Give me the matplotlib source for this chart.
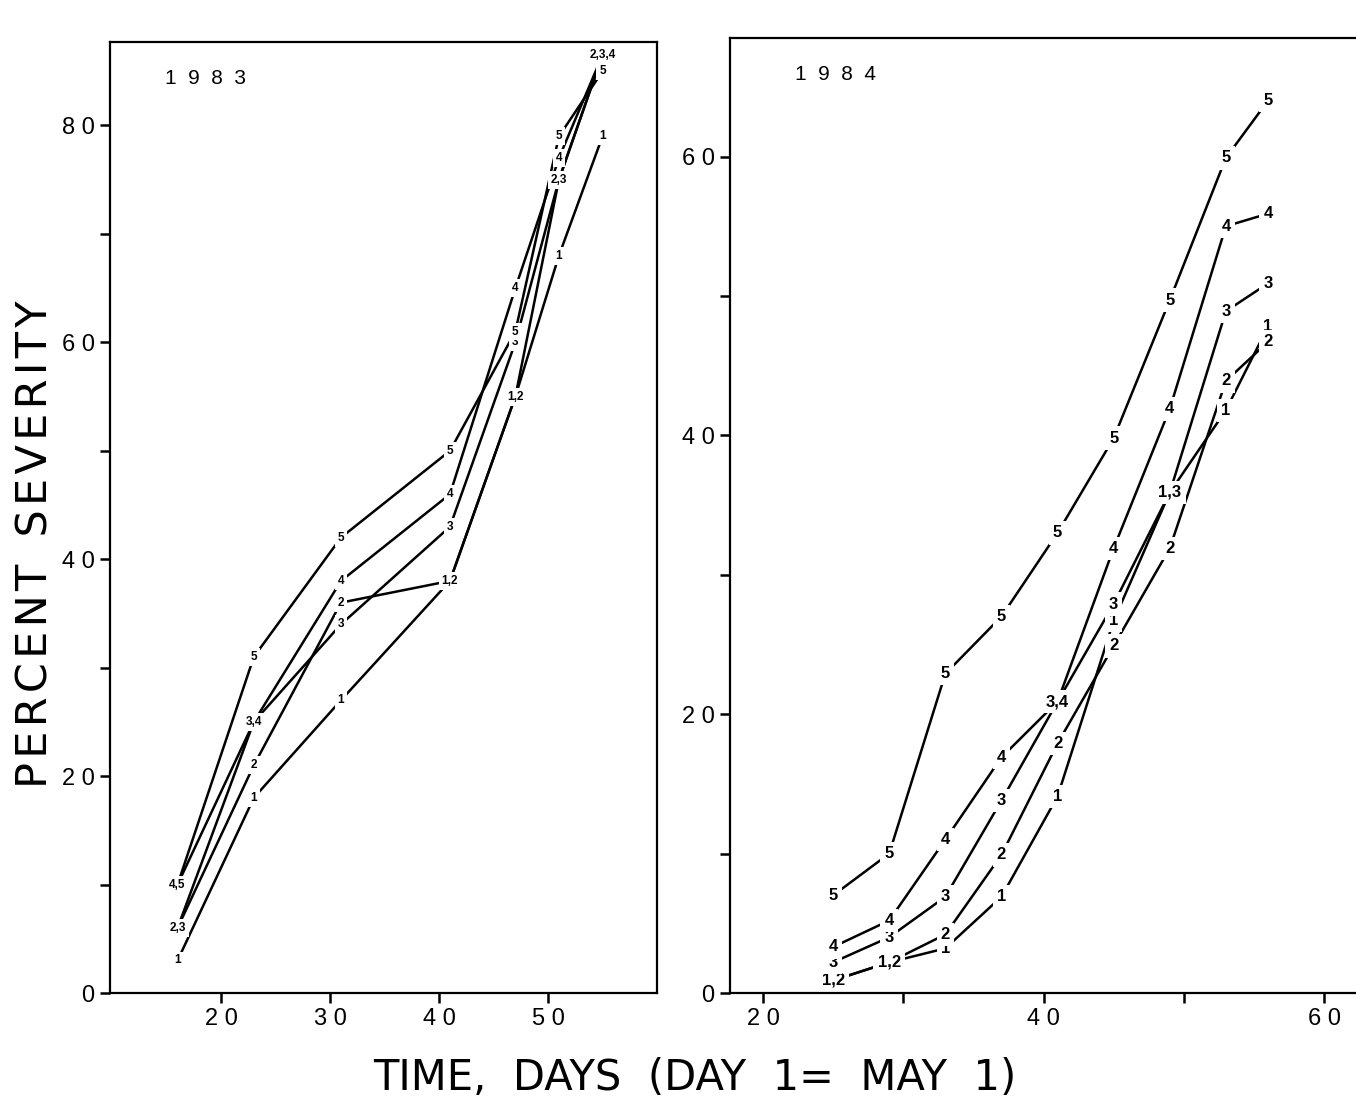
import matplotlib
matplotlib.use("Agg")
import matplotlib.pyplot as plt
from matplotlib.ticker import MultipleLocator, FixedLocator, FuncFormatter

plt.rcParams['font.family'] = ['Liberation Sans', 'DejaVu Sans']

# 1983 season
days83 = [16, 23, 31, 41, 47, 51, 55]
sev83 = {
    "1": [3, 18, 27, 38, 55, 68, 79],
    "2": [6, 21, 36, 38, 55, 75, 86.5],
    "3": [6, 25, 34, 43, 60, 75, 86.5],
    "4": [10, 25, 38, 46, 65, 77, 86.5],
    "5": [10, 31, 42, 50, 61, 79, 85],
}

# 1984 season
days84 = [25, 29, 33, 37, 41, 45, 49, 53, 56]
sev84 = {
    "1": [0.9, 2.2, 3.2, 6.9, 14.1, 26.7, 35.9, 41.8, 47.8],
    "2": [0.9, 2.2, 4.2, 9.9, 17.9, 24.9, 31.9, 43.9, 46.7],
    "3": [2.2, 4.0, 6.9, 13.8, 20.9, 27.9, 35.9, 48.9, 50.9],
    "4": [3.3, 5.2, 11.0, 16.9, 20.9, 31.9, 41.9, 55.0, 55.9],
    "5": [7.0, 10.0, 22.9, 27.0, 33.0, 39.8, 49.7, 59.9, 64.0],
}


def spaced(v, pos=None, step=20):
    if round(v) % step != 0:
        return ""
    return " ".join(str(int(round(v))))


def draw_panel(ax, days, sev, year, fsize):
    for name, vals in sev.items():
        ax.plot(days, vals, color="black", lw=1.8, zorder=1, solid_capstyle="butt")
    # one label per point, series with equal values share a label
    for i, d in enumerate(days):
        groups = {}
        for name, vals in sev.items():
            groups.setdefault(vals[i], []).append(name)
        for val, names in groups.items():
            ax.text(d, val, ",".join(names), fontsize=fsize, fontweight="bold",
                    ha="center", va="center", zorder=2,
                    bbox=dict(boxstyle="square,pad=0.25", fc="white", ec="none"))
    ax.text(0.1, 0.962, "  ".join(year), transform=ax.transAxes, fontsize=15,
            ha="left", va="center")
    for sp in ax.spines.values():
        sp.set_linewidth(1.6)
    ax.yaxis.set_major_locator(MultipleLocator(10))
    ax.yaxis.set_major_formatter(FuncFormatter(spaced))
    ax.tick_params(direction="out", length=7, width=1.8, labelsize=17, pad=4)


fig = plt.figure(figsize=(13.56, 11), dpi=100)

ax1 = fig.add_axes([110 / 1356, 107 / 1100, 547 / 1356, 951 / 1100])
draw_panel(ax1, days83, sev83, "1983", 8.5)
ax1.set_xlim(9.8, 60)
ax1.set_ylim(0, 87.7)
ax1.xaxis.set_major_locator(FixedLocator([20, 30, 40, 50]))
ax1.xaxis.set_major_formatter(FuncFormatter(lambda v, p: spaced(v, p, 10)))

ax2 = fig.add_axes([730 / 1356, 107 / 1100, 653 / 1356, 955 / 1100])
draw_panel(ax2, days84, sev84, "1984", 12)
ax2.set_xlim(17.65, 64.2)
ax2.set_ylim(0, 68.5)
ax2.xaxis.set_major_locator(FixedLocator([20, 30, 40, 50, 60]))
ax2.xaxis.set_major_formatter(FuncFormatter(spaced))

ylab = "\u200a".join("PERCENT") + "  " + "\u200a".join("SEVERITY")
fig.text(0.026, 0.505, ylab, rotation=90, fontsize=31,
         family="DejaVu Sans", ha="center", va="center")
fig.text(0.512, 0.02, "TIME,  DAYS  (DAY  1=  MAY  1)", fontsize=30,
         family="DejaVu Sans", ha="center", va="center")

fig.savefig("out.png", dpi=100)
